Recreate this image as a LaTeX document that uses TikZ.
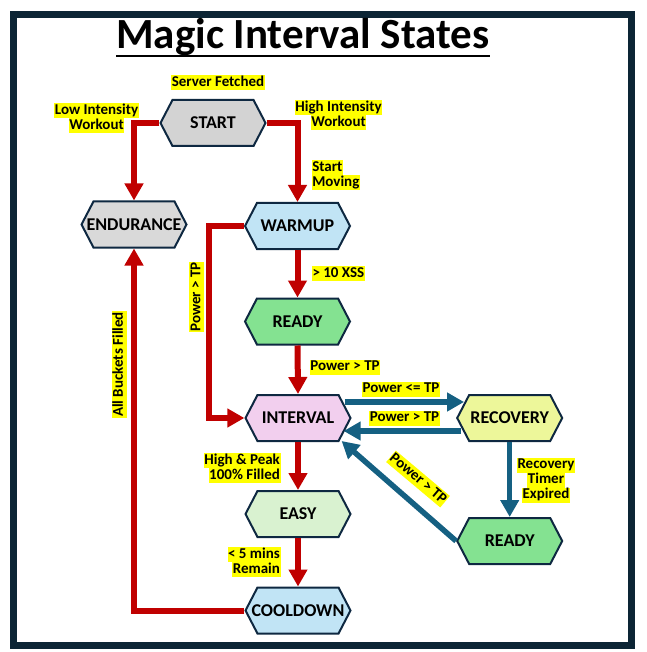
\documentclass[tikz,border=0pt]{standalone}
\usepackage{fontspec}
\setmainfont{Carlito}
\usetikzlibrary{arrows.meta,shapes.symbols,calc}
\definecolor{framecol}{HTML}{0C2535}
\definecolor{nodeborder}{HTML}{0E2841}
\definecolor{redc}{HTML}{C00000}
\definecolor{bluec}{HTML}{156082}
\definecolor{greyA}{HTML}{D3D3D3}
\definecolor{greyB}{HTML}{D9D9D9}
\definecolor{lblue}{HTML}{C1E4F5}
\definecolor{rgreen}{HTML}{84E291}
\definecolor{pinkc}{HTML}{F2CFEE}
\definecolor{yellowg}{HTML}{EDF79A}
\definecolor{pgreen}{HTML}{D9F2D0}
\definecolor{hly}{HTML}{FFFF00}
\newcommand{\hl}[1]{{\setlength{\fboxsep}{0.6pt}\colorbox{hly}{\rule[-0.2em]{0pt}{0.92em}#1}}}
\newcommand{\titleul}[1]{\setbox0\hbox{#1}\rlap{\usebox0}\rule[-0.19em]{\wd0}{1.8pt}}
\newcommand{\nt}[1]{\makebox[50pt][c]{#1}}
\tikzset{
  st/.style={signal, signal to=east and west, signal pointer angle=125,
    draw=nodeborder, line width=2pt, minimum width=105pt, minimum height=46pt,
    inner sep=0pt, font=\fontsize{18}{18}\selectfont\bfseries},
  lab/.style={font=\fontsize{15}{15}\selectfont\bfseries, inner sep=0pt, align=center},
  redarr/.style={draw=redc, line width=6pt, -{Triangle[width=18pt,length=17pt]}},
  bluearr/.style={draw=bluec, line width=5.5pt, -{Triangle[width=18pt,length=17pt]}}
}
\begin{document}
\begin{tikzpicture}[x=1pt,y=-1pt]
\useasboundingbox (0,0) rectangle (646,652);
\draw[line width=7pt, framecol] (13.5,14.5) rectangle (631.5,645.5);
\node[font=\fontsize{43}{43}\selectfont\bfseries, inner sep=0pt, anchor=base] (title) at (303,49) {\titleul{Magic Interval States}};

\node[st, fill=greyA] (start) at (213,123) {\nt{START}};
\node[st, fill=greyB] (endu) at (134,224.5) {\nt{ENDURANCE}};
\node[st, fill=lblue] (warm) at (297.5,226) {\nt{WARMUP}};
\node[st, fill=rgreen] (ready) at (297.5,321.5) {\nt{READY}};
\node[st, fill=pinkc] (inter) at (298,418) {\nt{INTERVAL}};
\node[st, fill=yellowg] (recov) at (509.7,418) {\nt{RECOVERY}};
\node[st, fill=pgreen] (easy) at (298,514) {\nt{EASY}};
\node[st, fill=rgreen] (ready2) at (509.7,541) {\nt{READY}};
\node[st, fill=lblue] (cool) at (298,610.5) {\nt{COOLDOWN}};

\draw[redarr] (start.west) -| (endu.north);
\draw[redarr] (start.east) -| (warm.north);
\draw[redarr] (warm.west) -- ++(-35,0) |- (inter.west);
\draw[redarr] (warm.south) -- (ready.north);
\draw[redarr] (ready.south) -- (inter.north);
\draw[redarr] (inter.south) -- (easy.north);
\draw[redarr] (easy.south) -- (cool.north);
\draw[redarr] (cool.west) -| (endu.south);
\draw[bluearr] ($(inter.east)+(-7,-16)$) -- ($(recov.west)+(8,-16)$);
\draw[bluearr] ($(recov.west)+(5,13)$) -- ($(inter.east)+(-8,13)$);
\draw[bluearr] (recov.south) -- (ready2.north);
\draw[bluearr] (ready2.west) -- ($(inter.east)+(-10,23)$);

\node[lab] (l1) at (218,82.5) {\hl{Server Fetched}};
\node[lab] (l2) at (96.5,118) {\hl{Low Intensity}\\\hl{Workout}};
\node[lab] (l3) at (338.5,115.5) {\hl{High Intensity}\\\hl{Workout}};
\node[lab, anchor=west, align=left] (l4) at (311.5,175) {\hl{Start}\\\hl{Moving}};
\node[lab, anchor=west] (l5) at (311.7,273.5) {\hl{> 10 XSS}};
\node[lab] (l6) at (345,367) {\hl{Power > TP}};
\node[lab, rotate=90] (l7) at (196.5,297) {\hl{Power > TP}};
\node[lab] (l8) at (401,389) {\hl{Power <= TP}};
\node[lab] (l9) at (404.5,418) {\hl{Power > TP}};
\node[lab] (l10) at (546,480) {\hl{Recovery}\\\hl{Timer}\\\hl{Expired}};
\node[lab, rotate=-40] (l11) at (418,479) {\hl{Power > TP}};
\node[lab, anchor=east, align=right] (l12) at (280.7,467.7) {\hl{High \& Peak}\\\hl{100\% Filled}};
\node[lab, anchor=east, align=right] (l13) at (280.7,562) {\hl{< 5 mins}\\\hl{Remain}};
\node[lab, rotate=90] (l14) at (119,364.5) {\hl{All Buckets Filled}};
\end{tikzpicture}
\end{document}
